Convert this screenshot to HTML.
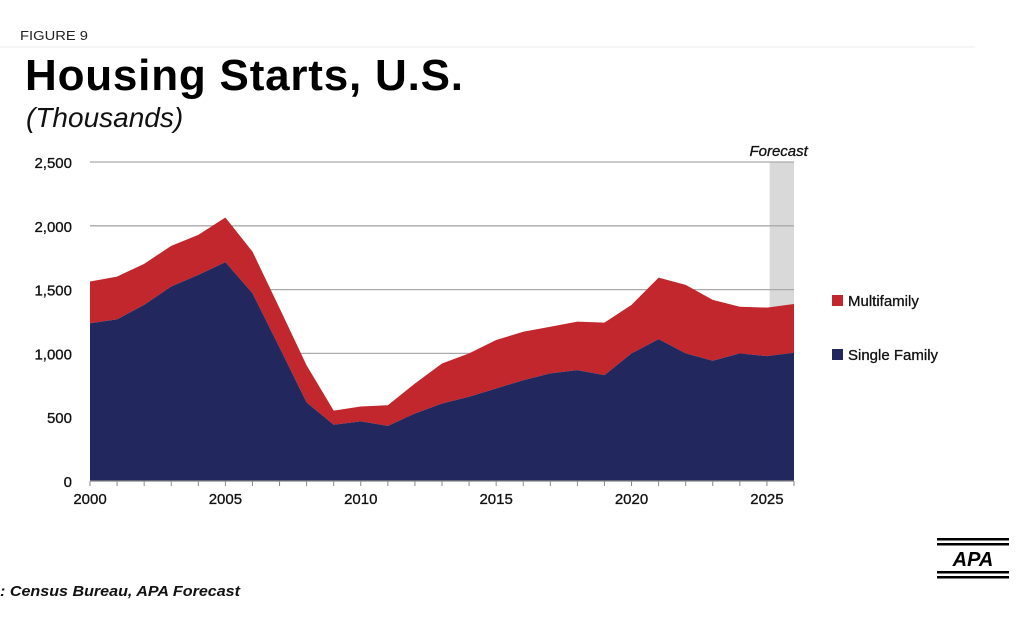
<!DOCTYPE html>
<html><head><meta charset="utf-8"><style>
body{margin:0;background:#fff;}
svg text{font-family:"Liberation Sans",sans-serif;}
</style></head><body>
<svg id="c" width="1026" height="618" viewBox="0 0 1026 618">
<text x="20" y="40" font-size="13" fill="#222" textLength="68" lengthAdjust="spacingAndGlyphs">FIGURE 9</text>
<line x1="0" y1="47" x2="975" y2="47" stroke="#eee" stroke-width="1"/>
<text x="25" y="90" font-size="44" font-weight="bold" fill="#000" textLength="438">Housing Starts, U.S.</text>
<text x="26" y="127" font-size="28" font-style="italic" fill="#111">(Thousands)</text>
<g id="plot"></g>
<rect x="832" y="295" width="11" height="11" fill="#c1272d"/>
<text x="848" y="306" font-size="15" fill="#111" stroke="#111" stroke-width="0.3">Multifamily</text>
<rect x="832" y="349" width="11" height="11" fill="#22285e"/>
<text x="848" y="360" font-size="15" fill="#111" stroke="#111" stroke-width="0.3">Single Family</text>
<text x="0" y="596" font-size="15" font-weight="bold" font-style="italic" fill="#111" textLength="240" lengthAdjust="spacingAndGlyphs">: Census Bureau, APA Forecast</text>
<g>
<rect x="937" y="538" width="72" height="2.5" fill="#000"/><rect x="937" y="543" width="72" height="2.5" fill="#000"/>
<text x="973" y="566" font-size="20" font-weight="bold" font-style="italic" text-anchor="middle" fill="#000">APA</text>
<rect x="937" y="571" width="72" height="2.5" fill="#000"/><rect x="937" y="576" width="72" height="2.5" fill="#000"/>
</g>
</svg>
<script>
const years=[2000,2001,2002,2003,2004,2005,2006,2007,2008,2009,2010,2011,2012,2013,2014,2015,2016,2017,2018,2019,2020,2021,2022,2023,2024,2025,2026];
const singleFamily=[1236,1267,1380,1524,1615,1715,1471,1046,615,441,467,432,529,607,660,725,790,843,869,830,1000,1112,1000,942,1000,979,1005];
const totalStarts=[1563,1602,1702,1843,1929,2065,1798,1355,906,552,584,594,764,921,1000,1105,1170,1209,1249,1241,1380,1594,1537,1419,1366,1359,1387];
const yTicks=[0,500,1000,1500,2000,2500];
const yTickLabels=["0","500","1,000","1,500","2,000","2,500"];
const xTickLabels=[2000,2005,2010,2015,2020,2025];
const forecastStart=2025.1;
const NS="http://www.w3.org/2000/svg";
const X0=90,X1=794,Y0=481,Y1=162;
const x=v=>X0+(v-2000)/(2026-2000)*(X1-X0);
const y=v=>Y0-v/2500*(Y0-Y1);
const g=document.getElementById('plot');
function mk(t,a){const e=document.createElementNS(NS,t);for(const k in a)e.setAttribute(k,a[k]);g.appendChild(e);return e;}
const fb=mk('rect',{x:x(forecastStart),y:Y1,width:X1-x(forecastStart),height:Y0-Y1,fill:'#d9d9d9'});


const ft=mk('text',{x:x(forecastStart)+9,y:156,'font-size':15,'font-style':'italic','text-anchor':'middle',fill:'#111',stroke:'#111','stroke-width':0.3});
ft.textContent='Forecast';


yTicks.forEach((t,i)=>{
 if(t>0){const l=mk('line',{x1:X0,y1:y(t),x2:X1,y2:y(t),stroke:'#aaa','stroke-width':1.3});
 
 }
 const tx=mk('text',{x:72,y:y(t)+6,'font-size':15,'text-anchor':'end',fill:'#111',stroke:'#111','stroke-width':0.3});
 tx.textContent=yTickLabels[i];
 
 
});
let mf='M'+x(years[0])+','+y(totalStarts[0]);
years.forEach((yr,i)=>{mf+=' L'+x(yr)+','+y(totalStarts[i]);});
for(let i=years.length-1;i>=0;i--)mf+=' L'+x(years[i])+','+y(singleFamily[i]);
const a1=mk('path',{d:mf+'Z',fill:'#c1272d'});


let sf='M'+x(years[0])+','+y(0);
years.forEach((yr,i)=>{sf+=' L'+x(yr)+','+y(singleFamily[i]);});
sf+=' L'+x(years[years.length-1])+','+y(0)+'Z';
const a2=mk('path',{d:sf,fill:'#22285e'});


const ax=mk('line',{x1:X0,y1:Y0,x2:X1,y2:Y0,stroke:'#888','stroke-width':1.3});


years.forEach(yr=>{const t=mk('line',{x1:x(yr),y1:Y0,x2:x(yr),y2:Y0+5,stroke:'#888'});
 
 });
xTickLabels.forEach(v=>{const t=mk('text',{x:x(v),y:504,'font-size':15,'text-anchor':'middle',fill:'#111',stroke:'#111','stroke-width':0.3});
 t.textContent=v;
 
 });
</script>
</body></html>
